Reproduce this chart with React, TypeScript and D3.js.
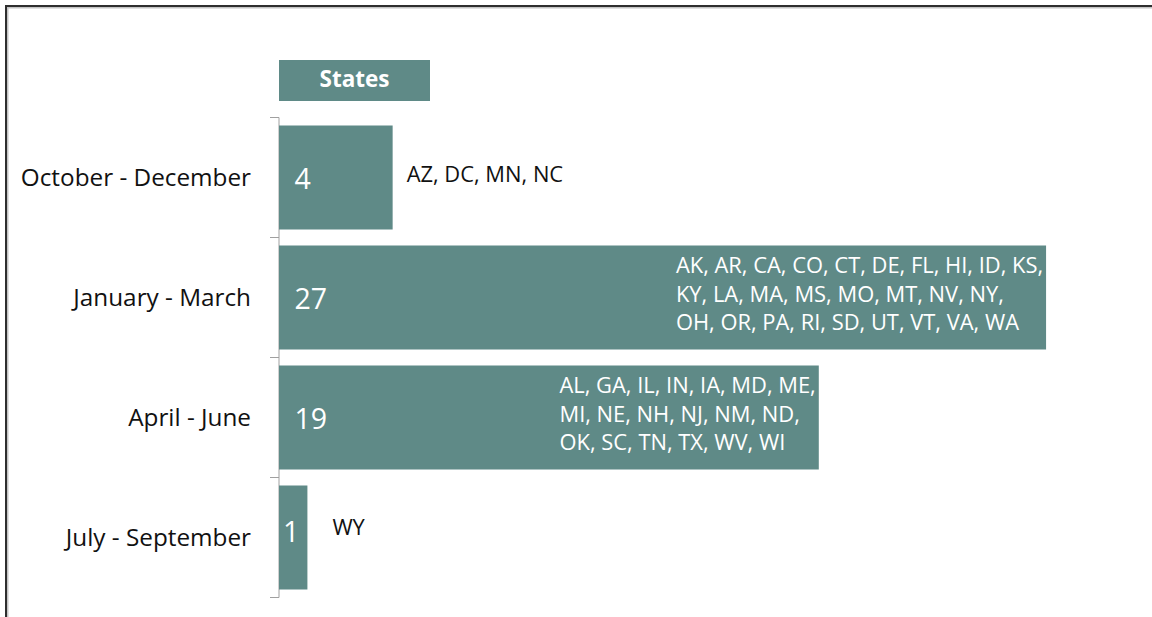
import React, { useEffect, useRef } from 'react';
import * as d3 from 'd3';

// ---- Data ----
const categories = ['October - December', 'January - March', 'April - June', 'July - September'];
const stateCounts = [4, 27, 19, 1];
const stateLines: string[][] = [
  ['AZ, DC, MN, NC'],
  ['AK, AR, CA, CO, CT, DE, FL, HI, ID, KS,', 'KY, LA, MA, MS, MO, MT, NV, NY,', 'OH, OR, PA, RI, SD, UT, VT, VA, WA'],
  ['AL, GA, IL, IN, IA, MD, ME,', 'MI, NE, NH, NJ, NM, ND,', 'OK, SC, TN, TX, WV, WI'],
  ['WY'],
];
const legendLabel = 'States';
const xDomain: [number, number] = [0, 30];

// ---- Styles ----
const W = 1152;
const H = 617;
const BAR = '#5f8a87';
const FONT = '"Open Sans", "DejaVu Sans", sans-serif';
// manual label offsets (as moved in the original chart)
const nudge = [
  { dx: 0, dy: 0 },
  { dx: 0, dy: 0 },
  { dx: 0, dy: 0 },
  { dx: 11, dy: -6.5 },
];

export default function App() {
  const ref = useRef<SVGSVGElement | null>(null);

  useEffect(() => {
    const svg = d3.select(ref.current);
    svg.selectAll('*').remove();

    const x = d3.scaleLinear().domain(xDomain).range([279, 279 + 30 * 28.41]);
    const y = d3
      .scaleBand<string>()
      .domain(categories)
      .range([117.5, 597.5])
      .paddingInner(16 / 120)
      .paddingOuter(8 / 120);
    const step = y.step();

    // frame lines (top / left)
    svg.append('rect').attr('x', 5).attr('y', 5).attr('width', W - 5).attr('height', 2).attr('fill', '#2e2e2e');
    svg.append('rect').attr('x', 7).attr('y', 7).attr('width', W - 7).attr('height', 1.5).attr('fill', '#c4c4c4');
    svg.append('rect').attr('x', 5).attr('y', 5).attr('width', 2).attr('height', H - 5).attr('fill', '#2e2e2e');
    svg.append('rect').attr('x', 7).attr('y', 7).attr('width', 1.5).attr('height', H - 7).attr('fill', '#c4c4c4');

    // legend header
    svg.append('rect').attr('x', x(0)).attr('y', 60).attr('width', 151).attr('height', 41).attr('fill', BAR);
    svg
      .append('text')
      .attr('x', x(0) + 75.5)
      .attr('y', 87)
      .attr('text-anchor', 'middle')
      .attr('font-family', FONT)
      .attr('font-weight', 700)
      .attr('font-size', 22.5)
      .attr('fill', '#fff')
      .text(legendLabel);

    // axis
    const [r0, r1] = y.range();
    svg.append('line').attr('x1', x(0)).attr('x2', x(0)).attr('y1', r0).attr('y2', r1).attr('stroke', '#a0a0a0').attr('stroke-width', 1);
    const ticks = d3.range(categories.length + 1).map((i) => r0 + i * step);
    svg
      .selectAll('line.tick')
      .data(ticks)
      .enter()
      .append('line')
      .attr('x1', x(0) - 9)
      .attr('x2', x(0))
      .attr('y1', (d) => d)
      .attr('y2', (d) => d)
      .attr('stroke', '#a0a0a0')
      .attr('stroke-width', 1);

    categories.forEach((cat, i) => {
      const v = stateCounts[i];
      const by = y(cat)!;
      const bh = y.bandwidth();
      const cy = r0 + i * step + step / 2;
      const x0 = x(0);
      const x1 = x(v);
      const bw = x1 - x0;
      const nd = nudge[i];

      svg.append('rect').attr('x', x0).attr('y', by).attr('width', bw).attr('height', bh).attr('fill', BAR);

      // category label
      svg
        .append('text')
        .attr('x', x0 - 28)
        .attr('y', cy + 8.5)
        .attr('text-anchor', 'end')
        .attr('font-family', FONT)
        .attr('font-size', 24.3)
        .attr('fill', '#111')
        .text(cat);

      // value label
      const vt = svg
        .append('text')
        .attr('y', cy + 11 + nd.dy)
        .attr('font-family', FONT)
        .attr('font-size', 28.5)
        .attr('fill', '#fff')
        .text(String(v));
      if (bw > 40) vt.attr('x', x0 + 15.5).attr('text-anchor', 'start');
      else vt.attr('x', x0 + bw / 2 - 2).attr('text-anchor', 'middle');

      // state list label
      const lines = stateLines[i];
      const g = svg.append('g');
      const n = lines.length;
      const texts = lines.map((ln, j) =>
        g
          .append('text')
          .attr('y', cy + 4 + (j - (n - 1) / 2) * 28.7 + nd.dy)
          .attr('font-family', FONT)
          .attr('font-size', 21.9)
          .text(ln)
      );
      const maxW = d3.max(texts, (t) => (t.node() as SVGTextElement).getComputedTextLength()) || 0;
      const inside = maxW + 40 < bw;
      const lx = inside ? x1 - 3 - maxW : x1 + 14 + nd.dx;
      texts.forEach((t) => t.attr('x', lx).attr('fill', inside ? '#fff' : '#111'));
    });
  }, []);

  return (
    <svg
      ref={ref}
      width={W}
      height={H}
      style={{ position: 'absolute', left: 0, top: 0, background: '#fff', display: 'block' }}
    />
  );
}
